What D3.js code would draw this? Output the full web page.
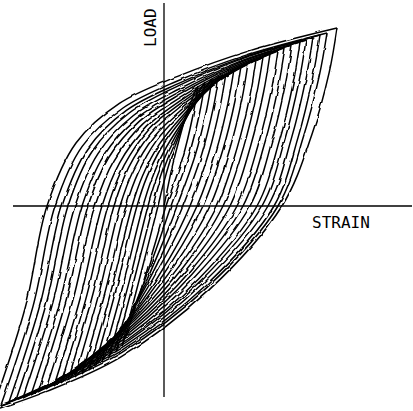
<!DOCTYPE html>
<html>
<head>
<meta charset="utf-8">
<script src="https://cdn.jsdelivr.net/npm/d3@7"></script>
<style>
  html, body { margin: 0; padding: 0; background: #fff; }
  svg { display: block; }
</style>
</head>
<body>
<svg id="chart" width="413" height="411"></svg>
<script>
// Cyclic load-strain record: twenty loops of growing amplitude.
// Strain and load are in arbitrary recorder units, zero at the axes' crossing.

// Peak of each loop (strain, load)
const upperTip = [
  [17, 60], [20.5, 62], [24, 63.5], [27.5, 65], [31, 66.5], [35, 68.5], [38.5, 70],
  [42, 71.5], [46, 73], [49.5, 74.5], [53, 76], [57, 77.5], [60.5, 79], [64, 80.5],
  [68, 82], [71, 83], [74.5, 84.5], [78, 85.5], [81.5, 86.5], [86.5, 89]
];

// Trough of each loop (strain, load)
const lowerTip = [
  [-21, -70], [-24.5, -73], [-27.5, -75.5], [-31, -78], [-34.5, -80], [-37.5, -82],
  [-41, -84], [-44.5, -85.5], [-48, -87], [-51.5, -88.5], [-55, -90], [-59, -91.5],
  [-63, -93], [-66.5, -94.5], [-70.5, -96], [-74, -97], [-77.5, -98], [-81.5, -99.5],
  [-85.5, -101], [-88, -103]
];

// Strain where the unloading branch passes zero load
const unloadZero = [1, 3.5, 6.5, 9.5, 13, 16.5, 19.5, 23, 26.5, 29.5,
                    33, 36.5, 39.5, 43, 46.5, 49, 52, 55, 57, 59];

// Strain where the reloading branch passes zero load (first loading starts at the origin)
const reloadZero = [0, -3, -5.5, -8, -10.5, -13.5, -16, -19, -22, -25,
                    -28, -31, -34.5, -38, -41, -44.5, -48, -51, -54.5, -58.5];

// Unloading branch, points above zero load
const unloadAbove = [
  [[14.4, 45], [9.3, 24]],     [[17.8, 46.5], [12.3, 24.8]], [[21.2, 47.6], [15.6, 25.4]],
  [[24.6, 48.8], [18.9, 26]],  [[28.1, 49.9], [22.4, 26.6]], [[32, 51.4], [26.1, 27.4]],
  [[35.5, 52.5], [29.4, 28]],  [[39, 53.6], [32.9, 28.6]],   [[42.9, 54.8], [36.6, 29.2]],
  [[46.3, 55.9], [39.9, 29.8]], [[49.8, 57], [43.4, 30.4]],  [[53.7, 58.1], [47.2, 31]],
  [[57.1, 59.3], [50.4, 31.6]], [[60.6, 60.4], [53.9, 32.2]], [[64.6, 61.5], [57.7, 32.8]],
  [[67.5, 62.3], [60.4, 33.2]], [[70.9, 63.4], [63.7, 33.8]], [[74.3, 64.1], [67, 34.2]],
  [[77.6, 64.9], [69.7, 34.6]], [[82.6, 66.8], [73.9, 35.6]]
];

// Unloading branch, points below zero load
const unloadBelow = [
  [[-4.5, -18.9], [-11.1, -40.6], [-16.6, -57.4]],
  [[-3.5, -20.4], [-11.9, -42.9], [-18.9, -60]],
  [[-2, -21.7], [-12.2, -45], [-20.7, -62.2]],
  [[-0.6, -23.2], [-12.8, -47], [-22.9, -64.5]],
  [[1.1, -24.5], [-13.1, -48.9], [-25, -66.3]],
  [[3, -25.7], [-13.2, -50.8], [-26.7, -68.1]],
  [[4.4, -27.1], [-13.8, -52.7], [-28.9, -70]],
  [[6.1, -28.4], [-14.1, -54.2], [-31, -71.5]],
  [[7.9, -29.7], [-14.5, -55.9], [-33.1, -72.9]],
  [[9.3, -31], [-15, -57.5], [-35.3, -74.3]],
  [[11, -32], [-15.4, -59.3], [-37.4, -76.1]],
  [[12.6, -33.1], [-16, -61], [-39.9, -78]],
  [[13.9, -34.2], [-16.9, -62.9], [-42.5, -79.8]],
  [[15.6, -35.3], [-17.2, -64.6], [-44.6, -81.6]],
  [[17.3, -36.5], [-17.9, -66.5], [-47.1, -83.5]],
  [[18.3, -37.4], [-18.7, -68], [-49.4, -85]],
  [[19.6, -38.4], [-19.2, -69.6], [-51.6, -86.4]],
  [[20.9, -39.6], [-20.1, -71.4], [-54.2, -88.4]],
  [[21.4, -40.8], [-21.4, -73.4], [-57, -90.3]],
  [[22.3, -42.2], [-21.9, -75.7], [-58.6, -92.7]]
];

// Reloading branch, point below zero load (none for the first loading)
const reloadBelow = [
  null, [-11.9, -35], [-14.8, -36.5], [-17.4, -37.8], [-20.3, -39], [-23.5, -40],
  [-26.1, -41], [-29.2, -42], [-32.3, -42.8], [-35.4, -43.5], [-38.5, -44.3],
  [-41.6, -45], [-45.2, -45.8], [-48.8, -46.5], [-51.9, -47.3], [-55.5, -48],
  [-58.8, -48.5], [-61.9, -49], [-65.4, -49.8], [-69.3, -50.5]
];

// Reloading branch, points above zero load
const reloadAbove = [
  [[1.7, 8.4], [4.3, 20.4], [7.7, 33.6], [11.9, 48]],
  [[-0.7, 9.5], [2.9, 22.1], [7.6, 35.5], [13.5, 50]],
  [[-2.6, 10.6], [1.9, 23.7], [7.8, 37.1], [15.2, 51.5]],
  [[-4.5, 11.7], [0.9, 25.4], [8, 38.8], [16.9, 53.1]],
  [[-6.4, 12.8], [-0.1, 27.1], [8.2, 40.5], [18.6, 54.7]],
  [[-8.7, 14.2], [-1.4, 29], [8.3, 42.5], [20.5, 56.7]],
  [[-10.6, 15.4], [-2.4, 30.8], [8.5, 44.3], [22.2, 58.3]],
  [[-12.9, 16.7], [-3.8, 32.7], [8.5, 46.2], [23.7, 60]],
  [[-15.2, 18], [-5, 34.5], [8.6, 48], [25.6, 61.6]],
  [[-17.6, 19.4], [-6.4, 36.5], [8.5, 49.9], [27.2, 63.3]],
  [[-19.9, 20.4], [-7.8, 37.9], [8.5, 51.4], [28.7, 64.8]],
  [[-22.2, 21.6], [-9, 39.3], [8.6, 52.9], [30.6, 66.3]],
  [[-25, 22.8], [-10.8, 40.8], [8.3, 54.3], [32, 67.7]],
  [[-27.8, 24], [-12.5, 42.2], [7.9, 55.8], [33.4, 69.1]],
  [[-30.1, 25.2], [-13.8, 43.7], [8.1, 57.3], [35.3, 70.7]],
  [[-33, 26.2], [-15.6, 45], [7.5, 58.5], [36.4, 71.7]],
  [[-35.8, 27.5], [-17.4, 46.5], [7.1, 60.1], [37.8, 73.2]],
  [[-38.1, 28.6], [-18.8, 47.8], [7.1, 61.2], [39.3, 74.2]],
  [[-40.9, 29.8], [-20.5, 49], [6.7, 62.5], [40.7, 75.3]],
  [[-44, 31.5], [-22.3, 51.3], [6.8, 64.8], [43, 77.7]]
];

// Extent of the drawn axis lines
const strainAxis = [-75.5, 124];
const loadAxis = [-95.5, 101.5];
const xLabel = "STRAIN";
const yLabel = "LOAD";

const width = 413, height = 411;
const x = d3.scaleLinear().domain([-82, 124.5]).range([0, width]);
const y = d3.scaleLinear().domain([-102.5, 103]).range([height, 0]);

const svg = d3.select("#chart");

// Gentle pen wobble of the plotter trace
const defs = svg.append("defs");
const wobble = defs.append("filter").attr("id", "pen")
  .attr("x", "-5%").attr("y", "-5%").attr("width", "110%").attr("height", "110%");
wobble.append("feTurbulence")
  .attr("type", "fractalNoise").attr("baseFrequency", 0.09)
  .attr("numOctaves", 1).attr("seed", 4).attr("result", "noise");
wobble.append("feDisplacementMap")
  .attr("in", "SourceGraphic").attr("in2", "noise")
  .attr("scale", 3).attr("xChannelSelector", "R").attr("yChannelSelector", "G");

// Axes crossing at the origin
svg.append("line")
  .attr("x1", x(strainAxis[0])).attr("x2", x(strainAxis[1]))
  .attr("y1", y(0)).attr("y2", y(0))
  .attr("stroke", "#000").attr("stroke-width", 1.3);
svg.append("line")
  .attr("x1", x(0)).attr("x2", x(0))
  .attr("y1", y(loadAxis[1])).attr("y2", y(loadAxis[0]))
  .attr("stroke", "#000").attr("stroke-width", 1.3);

// Split the record into reloading and unloading branches so each peak stays sharp
const branches = [];
upperTip.forEach((tip, i) => {
  const up = [i === 0 ? [0, 0] : lowerTip[i - 1]];
  if (reloadBelow[i]) up.push(reloadBelow[i]);
  if (i > 0) up.push([reloadZero[i], 0]);
  up.push(...reloadAbove[i], tip);
  const down = [tip, ...unloadAbove[i], [unloadZero[i], 0], ...unloadBelow[i], lowerTip[i]];
  branches.push(up, down);
});

const line = d3.line()
  .x(d => x(d[0]))
  .y(d => y(d[1]))
  .curve(d3.curveCatmullRom.alpha(0.5));

svg.append("g")
  .attr("fill", "none")
  .attr("stroke", "#000")
  .attr("stroke-width", 1.5)
  .attr("stroke-linejoin", "round")
  .attr("filter", "url(#pen)")
  .selectAll("path")
  .data(branches)
  .join("path")
  .attr("d", line);

// Axis names
svg.append("text")
  .attr("x", x(74)).attr("y", y(0) + 22)
  .attr("font-family", "DejaVu Sans Mono, monospace")
  .attr("font-size", 16)
  .attr("fill", "#000")
  .text(xLabel);
svg.append("text")
  .attr("transform", `translate(${x(0) - 8},47) rotate(-90)`)
  .attr("font-family", "DejaVu Sans Mono, monospace")
  .attr("font-size", 16)
  .attr("fill", "#000")
  .text(yLabel);
</script>
</body>
</html>
